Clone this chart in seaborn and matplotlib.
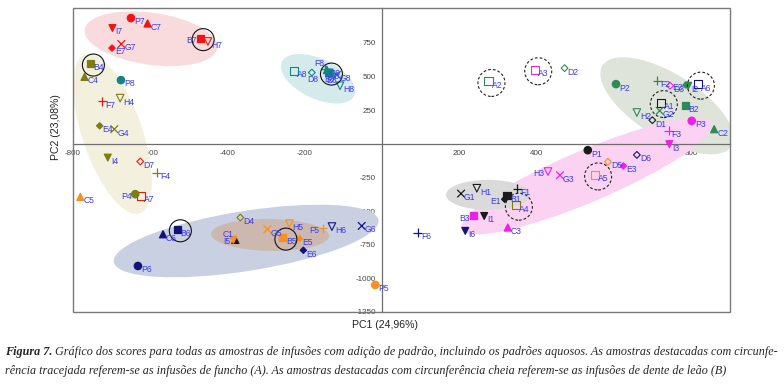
import seaborn as sns
import matplotlib.pyplot as plt
import pandas as pd
from matplotlib.patches import Ellipse, Rectangle
from matplotlib.transforms import ScaledTranslation, offset_copy

# PCA scores, one list per sample letter, index = infusion number 1..8
groups = ["1", "2", "3", "4", "5", "6", "7", "8"]
pc1_A = [721, 275, 396, 346, 551, 817, -623, -229]
pc2_A = [307, 464, 551, -456, -231, 444, -387, 543]
pc1_B = [323, 784, 236, -755, -257, -530, -471, -139]
pc2_B = [-387, 283, -536, 597, -697, -635, 786, 530]
pc1_C = [-380, 859, 325, -770, -781, -567, -607, -143]
pc2_C = [-714, 109, -622, 498, -394, -672, 895, 550]
pc1_D = [699, 472, 745, -367, 584, 659, -626, -182]
pc2_D = [176, 563, 432, -548, -134, -82, -131, 530]
pc1_E = [317, 786, 624, -731, -214, -204, -699, -133]
pc2_E = [-412, 437, -164, 134, -705, -791, 712, 523]
pc1_F = [350, 712, 741, -583, -153, 92, -724, -147]
pc2_F = [-332, 469, 97, -213, -627, -660, 315, 556]
pc1_G = [204, 718, 460, -693, -297, -53, -675, -117]
pc2_G = [-370, 246, -233, 109, -635, -610, 742, 513]
pc1_H = [245, 659, 429, -678, -240, -130, -451, -109]
pc2_H = [-330, 233, -206, 340, -593, -615, 761, 432]
pc1_I = [264, 792, 743, -710, -385, 215, -698, -136]
pc2_I = [-536, 432, -2, -102, -714, -647, 861, 530]
pc1_P = [532, 605, 801, -639, -18, -632, -650, -676]
pc2_P = [-47, 444, 171, -374, -1049, -908, 935, 474]

xticks = [-800, -600, -400, -200, 200, 400, 600, 800]
yticks = [750, 500, 250, -250, -500, -750, -1000, -1250]

scores = {
    "A": (pc1_A, pc2_A), "B": (pc1_B, pc2_B), "C": (pc1_C, pc2_C),
    "D": (pc1_D, pc2_D), "E": (pc1_E, pc2_E), "F": (pc1_F, pc2_F),
    "G": (pc1_G, pc2_G), "H": (pc1_H, pc2_H), "I": (pc1_I, pc2_I),
    "P": (pc1_P, pc2_P),
}

rows = []
for letter, (xs, ys) in scores.items():
    for g, x, y in zip(groups, xs, ys):
        rows.append({"letter": letter, "group": g, "pc1": x, "pc2": y, "name": letter + g})
df = pd.DataFrame(rows)

palette = {"1": "#1a1a1a", "2": "#2e8b57", "3": "#f01ee6", "4": "#7d7d12",
           "5": "#f7901e", "6": "#12127a", "7": "#f01414", "8": "#138484"}
markers = {"A": "s", "B": "s", "C": "^", "D": "D", "E": "D", "F": "+",
           "G": "x", "H": "v", "I": "v", "P": "o"}
sizes = {"A": 34, "B": 26, "C": 26, "D": 12, "E": 10, "F": 40, "G": 30,
         "H": 30, "I": 24, "P": 28}
open_letters = ["A", "D", "H"]

sns.set_style("white")
plt.rcParams["font.family"] = ["Liberation Sans Narrow", "Liberation Sans", "DejaVu Sans"]
plt.rcParams["axes.unicode_minus"] = False

fig = plt.figure(figsize=(7.84, 3.85), dpi=100)
ax = fig.add_axes([73 / 784, 1 - 312 / 385, 657 / 784, 304 / 385])
ax.set_xlim(-800, 900)
ax.set_ylim(-1250, 1010)


def shade(cx, cy, w, h, ang, color):
    # ellipse sized in pixels, centred on a data point
    tr = fig.dpi_scale_trans + ScaledTranslation(cx, cy, ax.transData)
    ax.add_patch(Ellipse((0, 0), w / 100, h / 100, angle=ang, transform=tr,
                         facecolor=color, edgecolor="none", zorder=1))


shade(-598, 781, 134, 52, -8, "#fadbdd")
shade(-698, 74, 168, 60, -71, "#f3f0dd")
shade(-166, 484, 80, 40, -25, "#d5ebeb")
shade(-352, -722, 268, 60, 9, "#c9d0e2")
shade(-290, -677, 118, 32, -1, "#cdb8b0")
shade(737, 283, 152, 64, -32, "#dfe4da")
shade(530, -240, 272, 52, 23, "#fbd2f1")
shade(274, -379, 84, 30, 0, "#dadada")

for letter, sub in df.groupby("letter"):
    m = markers[letter]
    kw = {}
    if m not in ("x", "+"):
        kw["edgecolor"] = "face"
    sns.scatterplot(data=sub, x="pc1", y="pc2", hue="group", palette=palette,
                    marker=m, s=sizes[letter], linewidth=0.9, legend=False,
                    ax=ax, zorder=3, **kw)
    coll = ax.collections[-1]
    if letter in open_letters:
        fc = coll.get_facecolors()
        coll.set_facecolors("none")
        coll.set_edgecolors(fc)
        coll.set_linewidth(0.8)

# highlighted samples: dashed = funcho (A), solid = dente de leao (B)
hl_tr = offset_copy(ax.transData, fig, x=3, y=-1.5, units="dots")
fen = df[(df.letter == "A") & df.group.isin(["1", "2", "3", "4", "5", "6"])]
dan = df[(df.letter == "B") & df.group.isin(["4", "5", "6", "7", "8"])]
ax.scatter(fen.pc1, fen.pc2, s=(27 * 0.72) ** 2, facecolors="none",
           edgecolors="#222222", linewidths=0.8, linestyle=(0, (2.5, 1.8)),
           transform=hl_tr, zorder=4)
ax.scatter(dan.pc1, dan.pc2, s=(22 * 0.72) ** 2, facecolors="none",
           edgecolors="#111111", linewidths=0.8, transform=hl_tr, zorder=4)

left_labels = ["B7", "P4", "I5", "E1", "B3", "H3", "F5", "E2"]
up_labels = ["C1", "F8"]
down_labels = ["D8", "B8", "E8"]
for _, r in df.iterrows():
    if r["name"] in left_labels:
        off, ha = (-2.5, -1.5), "right"
    elif r["name"] in up_labels:
        off, ha = (-1, 4), "right"
    elif r["name"] in down_labels:
        off, ha = (-3, -5), "left"
    else:
        off, ha = (2.2, -2.8), "left"
    ax.annotate(r["name"], (r.pc1, r.pc2), xytext=off, textcoords="offset points",
                ha=ha, va="center", fontsize=6.2, color="#3a3af2", zorder=5)

# axes through the origin, grey frame around
for s in ["top", "right"]:
    ax.spines[s].set_visible(False)
ax.spines["left"].set_position(("data", 0))
ax.spines["bottom"].set_position(("data", 0))
for s in ["left", "bottom"]:
    ax.spines[s].set_color("#6e6e6e")
    ax.spines[s].set_linewidth(0.9)
ax.add_patch(Rectangle((0, 0), 1, 1, transform=ax.transAxes, fill=False,
                       edgecolor="#7a7a7a", linewidth=1.0, clip_on=False, zorder=6))
ax.set_xticks(xticks)
ax.set_yticks(yticks)
ax.tick_params(length=3, width=0.6, color="#6e6e6e", labelsize=5.8,
               labelcolor="#444444", pad=1.5)
ax.set_xlabel("")
ax.set_ylabel("")

fig.text(385 / 784, 1 - 325 / 385, "PC1 (24,96%)", ha="center", va="center",
         fontsize=7.6, color="#222222")
fig.text(56 / 784, 1 - 127 / 385, "PC2 (23,08%)", ha="center", va="center",
         rotation=90, fontsize=7.6, color="#222222")

# caption
cap_font = ["Liberation Serif", "DejaVu Serif"]
line1 = ("Gráfico dos scores para todas as amostras de infusões com adição de padrão, "
         "incluindo os padrões aquosos. As amostras destacadas com circunfe-")
line2 = ("rência tracejada referem-se as infusões de funcho (A). As amostras destacadas "
         "com circunferência cheia referem-se as infusões de dente de leão (B)")
t0 = fig.text(5 / 784, 1 - 352 / 385, "Figura 7.", fontsize=8, fontweight="bold",
              style="italic", family=cap_font, va="center")
t1 = fig.text(5 / 784, 1 - 352 / 385, " " + line1, fontsize=8, style="italic",
              family=cap_font, va="center")
t2 = fig.text(5 / 784, 1 - 371 / 385, line2, fontsize=8, style="italic",
              family=cap_font, va="center")

# fit the first caption line to the page width
for _ in range(3):
    fig.canvas.draw()
    r = fig.canvas.get_renderer()
    w0 = t0.get_window_extent(r).width
    t1.set_x((5 + w0) / 784)
    total = w0 + t1.get_window_extent(r).width
    fs = t0.get_fontsize() * 773 / total
    for t in (t0, t1, t2):
        t.set_fontsize(fs)
fig.canvas.draw()
t1.set_x((5 + t0.get_window_extent(fig.canvas.get_renderer()).width) / 784)

fig.savefig("out.png", dpi=100)
